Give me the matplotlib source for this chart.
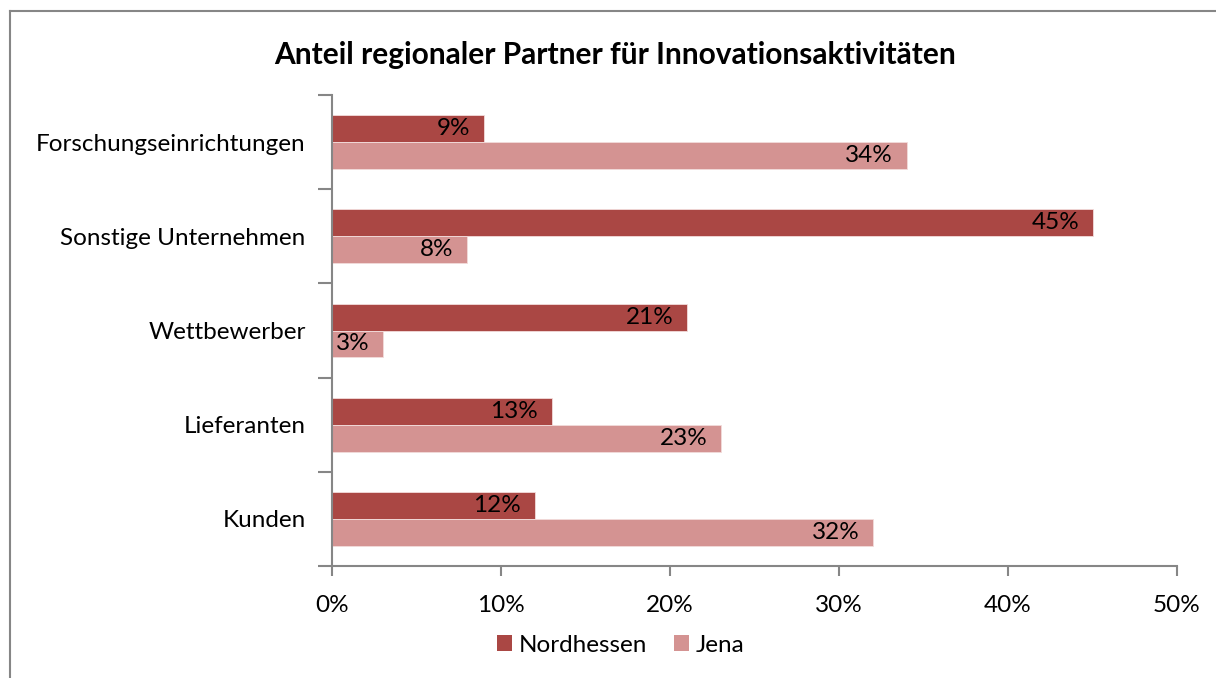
import matplotlib
matplotlib.use("Agg")
import matplotlib.pyplot as plt
import numpy as np
from matplotlib.patches import Patch
from matplotlib.lines import Line2D

categories = ["Kunden", "Lieferanten", "Wettbewerber", "Sonstige Unternehmen", "Forschungseinrichtungen"]
nordhessen = [12, 13, 21, 45, 9]
jena = [32, 23, 3, 8, 34]
xticks = [0, 10, 20, 30, 40, 50]
series_names = ["Nordhessen", "Jena"]
colors = ["#AA4744", "#D49392"]
title = "Anteil regionaler Partner für Innovationsaktivitäten"

plt.rcParams['font.family'] = ['Lato', 'DejaVu Sans']
FS = 17.5

fig = plt.figure(figsize=(12.16, 6.78), dpi=100)
ax = fig.add_axes([332/1216, 1-566/678, (1177-332)/1216, (566-95)/678])

y = np.arange(len(categories))
h = 0.285
b1 = ax.barh(y + h/2, nordhessen, height=h, color=colors[0], edgecolor="#F2DCDB", linewidth=0.6)
b2 = ax.barh(y - h/2, jena, height=h, color=colors[1], edgecolor="#F2DCDB", linewidth=0.6)

for bars, vals in ((b1, nordhessen), (b2, jena)):
    for rect, v in zip(bars, vals):
        ax.text(v - 0.8, rect.get_y() + rect.get_height()/2, f"{v}%", ha="right", va="center",
                fontsize=FS, color="black")

ax.set_xlim(0, 50)
ax.set_ylim(-0.5, len(categories) - 0.5)
ax.set_xticks(xticks)
ax.set_xticklabels([f"{t}%" for t in xticks], fontsize=FS)
ax.set_yticks(np.arange(len(categories) + 1) - 0.5, minor=False)
ax.set_yticklabels([])
ax.set_yticks(y, minor=True)
ax.set_yticklabels(categories, minor=True, fontsize=FS)
ax.tick_params(axis="y", which="minor", length=0, pad=19)
ax.tick_params(axis="y", which="major", length=10, color="#868686", width=1.5)
ax.tick_params(axis="x", length=7, color="#868686", width=1.5, pad=14)
for s in ["top", "right"]:
    ax.spines[s].set_visible(False)
for s in ["left", "bottom"]:
    ax.spines[s].set_color("#868686")
    ax.spines[s].set_linewidth(1.5)

fig.text(615/1216, 1-55/678, title, ha="center", va="center", fontsize=21.5, fontweight="bold")

handles = [Patch(facecolor=c, edgecolor="none") for c in colors]
fig.legend(handles, series_names, loc="center", bbox_to_anchor=(621/1216, 1-645/678), ncol=2,
           frameon=False, fontsize=FS, handlelength=0.6, handleheight=0.6, handletextpad=0.3,
           columnspacing=1.1)

# outer border
fig.add_artist(Line2D([10/1216, 10/1216], [0, 1-11/678], color="#868686", linewidth=1.5))
fig.add_artist(Line2D([10/1216, 1], [1-11/678, 1-11/678], color="#868686", linewidth=1.5))

fig.savefig("out.png", dpi=100)
